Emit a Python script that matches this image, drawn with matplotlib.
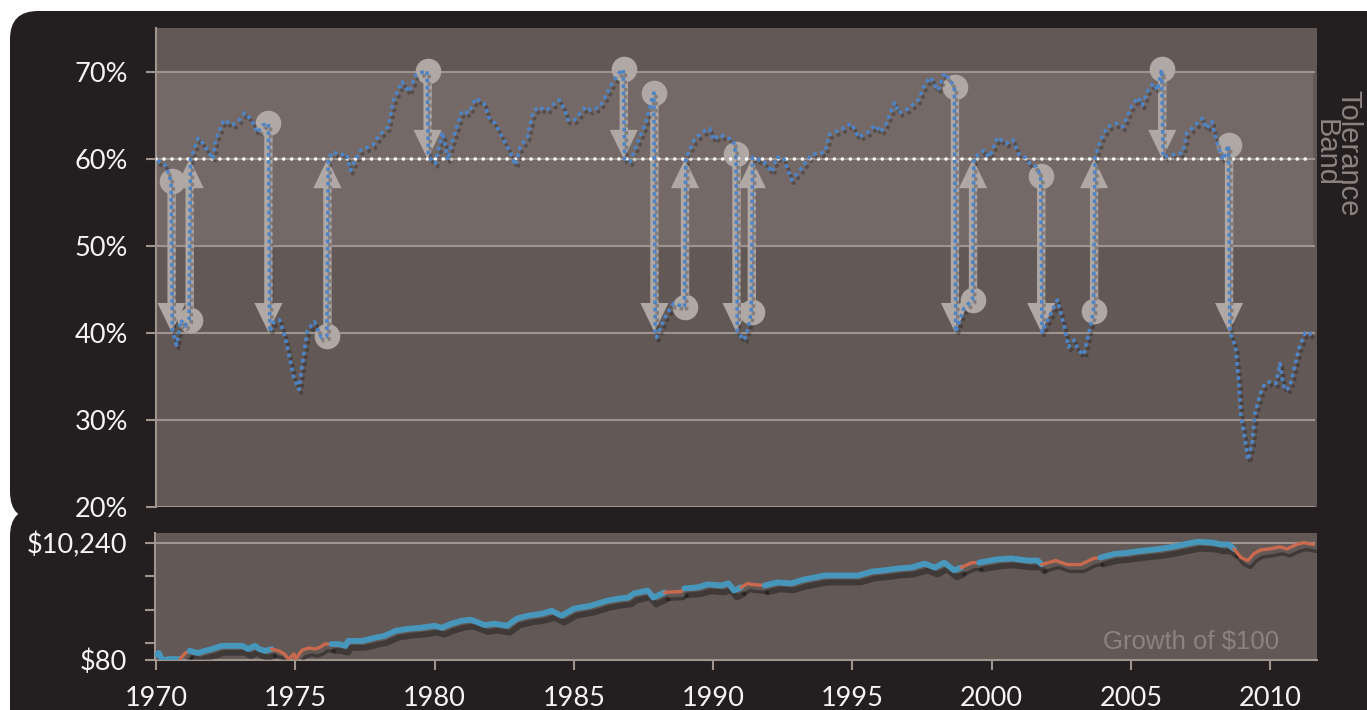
import matplotlib
matplotlib.use('Agg')
import matplotlib.pyplot as plt
import matplotlib.patheffects as pe
from matplotlib.patches import FancyBboxPatch
from matplotlib.transforms import IdentityTransform
from matplotlib.ticker import NullLocator

# equity allocation (% of portfolio)
alloc_years = [1970.0, 1970.3, 1970.5, 1970.55, 1970.7, 1970.85, 1971.0, 1971.15, 1971.2, 1971.47,
               1971.65, 1972.0, 1972.1, 1972.4, 1972.7, 1972.9, 1973.15, 1973.4, 1973.6, 1973.8,
               1974.0, 1974.05, 1974.2, 1974.4, 1974.6, 1974.9, 1975.1, 1975.2, 1975.4, 1975.65,
               1975.9, 1976.1, 1976.15, 1976.3, 1976.6, 1976.8, 1976.95, 1977.3, 1977.75, 1978.0,
               1978.3, 1978.5, 1978.8, 1979.05, 1979.3, 1979.55, 1979.7, 1979.75, 1980.0, 1980.25,
               1980.45, 1980.55, 1980.7, 1980.95, 1981.2, 1981.45, 1981.75, 1981.93, 1982.15, 1982.4,
               1982.7, 1982.87, 1983.05, 1983.3, 1983.5, 1983.7, 1984.0, 1984.2, 1984.45, 1984.65,
               1984.75, 1985.0, 1985.4, 1985.6, 1985.9, 1986.1, 1986.35, 1986.6, 1986.75, 1986.8,
               1987.0, 1987.3, 1987.55, 1987.8, 1987.85, 1987.9, 1987.95, 1988.25, 1988.55, 1988.95,
               1989.0, 1989.3, 1989.55, 1989.85, 1990.0, 1990.2, 1990.45, 1990.7, 1990.8, 1990.85,
               1991.1, 1991.25, 1991.35, 1991.4, 1991.8, 1992.1, 1992.25, 1992.5, 1992.8, 1993.1,
               1993.5, 1994.0, 1994.15, 1994.7, 1994.95, 1995.2, 1995.55, 1995.8, 1996.0, 1996.2,
               1996.5, 1996.65, 1997.0, 1997.35, 1997.6, 1997.8, 1998.05, 1998.3, 1998.65, 1998.7,
               1999.0, 1999.3, 1999.35, 1999.7, 1999.9, 2000.2, 2000.5, 2000.75, 2000.97, 2001.2,
               2001.4, 2001.6, 2001.75, 2001.8, 2002.05, 2002.35, 2002.6, 2002.75, 2002.95, 2003.1,
               2003.3, 2003.5, 2003.65, 2003.7, 2003.9, 2004.15, 2004.45, 2004.7, 2005.0, 2005.25,
               2005.4, 2005.6, 2005.8, 2005.95, 2006.1, 2006.15, 2006.5, 2006.85, 2007.0, 2007.25,
               2007.55, 2007.7, 2007.9, 2008.05, 2008.3, 2008.5, 2008.55, 2008.75, 2008.87, 2008.93,
               2009.05, 2009.2, 2009.35, 2009.45, 2009.65, 2009.8, 2010.0, 2010.2, 2010.35, 2010.45,
               2010.55, 2010.7, 2010.9, 2011.05, 2011.25, 2011.4, 2011.55]
alloc_pct = [59.8, 59.3, 57.5, 40.3, 38.6, 41.5, 40.8, 41.5, 60.0, 62.4,
             61.8, 60.0, 62.2, 64.5, 63.9, 64.3, 65.3, 64.5, 63.0, 63.9,
             64.1, 40.1, 41.3, 41.5, 39.5, 35.0, 33.5, 36.1, 40.3, 41.3,
             39.5, 39.7, 60.0, 60.8, 60.5, 60.6, 58.7, 61.0, 61.6, 62.8,
             63.7, 66.8, 68.9, 67.7, 69.7, 70.0, 70.1, 60.3, 59.5, 63.1,
             59.9, 61.4, 63.0, 65.5, 65.3, 67.0, 66.4, 64.7, 64.1, 62.5,
             60.7, 59.3, 61.4, 62.5, 65.3, 66.0, 65.6, 66.2, 66.8, 65.6,
             64.5, 64.5, 66.0, 65.6, 66.0, 67.1, 68.7, 69.9, 70.3, 60.0,
             59.7, 62.2, 64.1, 67.1, 67.6, 40.1, 39.5, 41.8, 43.4, 43.0,
             60.1, 62.2, 63.0, 63.5, 62.2, 62.8, 62.5, 62.2, 60.6, 40.1,
             39.2, 40.7, 42.4, 60.2, 59.7, 58.5, 60.2, 60.2, 57.6, 58.7,
             60.5, 60.8, 62.8, 63.6, 64.1, 62.5, 63.1, 63.9, 63.1, 64.1,
             66.5, 65.3, 65.8, 66.8, 68.7, 69.4, 67.9, 69.9, 68.3, 40.1,
             42.9, 43.8, 60.1, 61.0, 60.2, 62.5, 61.8, 62.2, 60.5, 60.2,
             59.3, 59.1, 58.0, 40.1, 41.8, 43.8, 40.7, 38.4, 39.2, 38.0,
             37.5, 40.3, 42.5, 60.1, 62.2, 63.7, 64.1, 63.7, 66.0, 67.1,
             66.2, 67.9, 68.7, 67.9, 70.3, 60.2, 60.5, 60.7, 63.0, 63.7,
             64.7, 63.5, 64.3, 62.2, 59.9, 61.6, 40.1, 38.4, 34.2, 30.8,
             28.5, 25.4, 27.4, 30.8, 33.1, 34.2, 34.4, 34.2, 36.5, 34.2,
             33.4, 33.8, 36.5, 38.4, 40.0, 40.1, 39.4]

# rebalancing trades (arrows)
event_years = [1970.52, 1971.17, 1974.0, 1976.12, 1979.72, 1986.77, 1987.87, 1988.97,
               1990.82, 1991.37, 1998.67, 1999.32, 2001.77, 2003.67, 2006.12, 2008.52]
event_from = [57.5, 41.5, 64.1, 39.7, 70.1, 70.3, 67.6, 43.0,
              60.6, 42.4, 68.3, 43.8, 58.0, 42.5, 70.3, 61.6]
event_to = [40.1, 60, 40.1, 60, 60, 60, 40.1, 60,
            40.1, 60, 40.1, 60, 40.1, 60, 60, 40.1]

# growth of $100 (lower panel)
growth_years = [1970.0, 1970.1, 1970.2, 1970.3, 1970.45, 1970.86, 1971.05, 1971.2, 1971.5, 1971.75,
                1972.0, 1972.35, 1972.6, 1973.1, 1973.3, 1973.55, 1973.7, 1973.9, 1974.15, 1974.4,
                1974.6, 1974.75, 1974.95, 1975.0, 1975.25, 1975.5, 1975.7, 1975.9, 1976.05, 1976.3,
                1976.55, 1976.8, 1976.9, 1977.4, 1977.85, 1978.2, 1978.6, 1979.05, 1979.5, 1980.0,
                1980.25, 1980.6, 1980.97, 1981.3, 1981.8, 1982.15, 1982.6, 1982.95, 1983.35, 1983.85,
                1984.2, 1984.55, 1985.0, 1985.6, 1986.2, 1986.6, 1986.95, 1987.15, 1987.65, 1987.85,
                1988.25, 1988.85, 1988.97, 1989.45, 1989.8, 1990.3, 1990.55, 1990.75, 1991.0, 1991.25,
                1991.35, 1991.85, 1992.3, 1992.8, 1993.25, 1994.0, 1994.7, 1995.2, 1995.7, 1996.15,
                1996.65, 1997.1, 1997.6, 1997.95, 1998.3, 1998.65, 1998.9, 1999.3, 1999.55, 2000.2,
                2000.7, 2001.3, 2001.65, 2001.8, 2002.3, 2002.7, 2003.2, 2003.65, 2003.9, 2004.4,
                2004.85, 2005.35, 2006.05, 2006.5, 2007.05, 2007.4, 2007.95, 2008.2, 2008.5, 2008.7,
                2008.95, 2009.2, 2009.4, 2009.65, 2010.0, 2010.35, 2010.6, 2010.95, 2011.2, 2011.55]
growth_value = [100, 107, 83, 80, 83, 83, 107, 117, 107, 117,
                126, 144, 144, 144, 126, 144, 126, 117, 126, 117,
                103, 83, 103, 83, 121, 132, 126, 137, 155, 155,
                155, 144, 177, 177, 201, 218, 269, 292, 305, 331,
                305, 360, 407, 425, 340, 360, 331, 444, 502, 545,
                616, 502, 672, 760, 937, 1021, 1066, 1263, 1430, 1066,
                1320, 1370, 1560, 1630, 1840, 1760, 1920, 1430, 1630, 1920,
                1840, 1760, 2000, 1920, 2250, 2660, 2660, 2660, 3140, 3300,
                3570, 3700, 4360, 3700, 4540, 3300, 3700, 4540, 4540, 5200,
                5400, 4950, 4950, 4200, 4950, 4200, 4200, 5400, 5600, 6500,
                6800, 7380, 8040, 8750, 10000, 10800, 10400, 9650, 9650, 8000,
                5600, 4950, 6500, 7680, 8040, 8750, 8000, 9650, 10400, 9650]

pct_ticks = [20, 30, 40, 50, 60, 70]
usd_ticks = [80, 160, 640, 2560, 10240]
usd_labels = ['$80', '', '', '', '$10,240']
year_ticks = [1970, 1975, 1980, 1985, 1990, 1995, 2000, 2005, 2010]

DARK = '#231f20'
PANEL = '#625855'
BAND = '#746966'
GRID = '#a0948f'
ARROW = '#b0a8a5'
BLUE_DOT = '#4f84c4'
BLUE = '#4797bd'
ORANGE = '#c96a4f'
NOTE = '#8c827f'
TICKFONT = 'Lato'

fig = plt.figure(figsize=(13.67, 7.10), dpi=100)
fig.patch.set_facecolor('white')
ident = IdentityTransform()
fig.add_artist(FancyBboxPatch((10, 190), 1420, 509, boxstyle='round,pad=0,rounding_size=28',
                              transform=ident, fc=DARK, ec='none', zorder=0))
fig.add_artist(FancyBboxPatch((10, -60), 1420, 262, boxstyle='round,pad=0,rounding_size=28',
                              transform=ident, fc=DARK, ec='none', zorder=0))

W, H = 1367, 710
xlim = (1969.96, 2011.68)

# ---- upper panel: allocation ----
ax1 = fig.add_axes([156 / W, 1 - 507 / H, 1161 / W, (507 - 28) / H])
ax1.set_facecolor(PANEL)
ax1.set_xlim(*xlim)
ax1.set_ylim(20, 75.06)
ax1.axhspan(50, 70, xmax=0.996, color=BAND, zorder=0)
for s in ['top', 'right', 'bottom']:
    ax1.spines[s].set_visible(False)
ax1.spines['left'].set_color(GRID)
ax1.spines['left'].set_linewidth(1.5)
ax1.set_yticks(pct_ticks)
ax1.set_yticklabels([f'{v}%' for v in pct_ticks])
ax1.set_xticks([])
ax1.tick_params(axis='y', length=7, width=1.5, color=GRID, pad=13, labelsize=19.5,
                labelcolor='#f4f4f4')
for lab in ax1.get_yticklabels():
    lab.set_family(TICKFONT)
for v in pct_ticks:
    ax1.axhline(v, xmax=0.997, color=GRID, lw=1.5, zorder=1)

ax1.axhline(60, xmax=0.992, color='white', lw=2.6, ls=(0, (0.01, 2.2)),
            dash_capstyle='round', zorder=4)

for yr, frm, to in zip(event_years, event_from, event_to):
    ax1.annotate('', xy=(yr, to), xytext=(yr, frm),
                 arrowprops=dict(arrowstyle='simple,head_length=1.4,head_width=1.35,tail_width=0.4',
                                 mutation_scale=15, fc=ARROW, ec='none',
                                 shrinkA=0, shrinkB=0), zorder=3)
ax1.scatter(event_years, event_from, s=340, color=ARROW, zorder=3, linewidths=0)

ax1.plot(alloc_years, alloc_pct, color=BLUE_DOT, lw=2.6, ls=(0, (1, 1.0)),
         dash_capstyle='butt', zorder=5,
         path_effects=[pe.SimpleLineShadow(offset=(1.5, -2.5), shadow_color='black', alpha=0.25),
                       pe.Normal()])

fig.text(1337 / W, 1 - 153 / H, 'Tolerance\nBand', rotation=270, ha='center', va='center',
         multialignment='center', color=NOTE, fontsize=21, family='Liberation Sans',
         linespacing=0.8)

# ---- lower panel: growth of $100 ----
ax2 = fig.add_axes([155 / W, 1 - 660 / H, 1162 / W, (660 - 533) / H])
ax2.set_facecolor(PANEL)
ax2.set_xlim(*xlim)
ax2.set_yscale('log', base=2)
ax2.set_ylim(80, 15515)
for s in ['top', 'right']:
    ax2.spines[s].set_visible(False)
for s in ['left', 'bottom']:
    ax2.spines[s].set_color(GRID)
    ax2.spines[s].set_linewidth(1.5)
ax2.yaxis.set_minor_locator(NullLocator())
ax2.set_yticks(usd_ticks)
ax2.set_yticklabels(usd_labels)
ax2.set_xticks(year_ticks)
ax2.set_xticklabels([str(y) for y in year_ticks])
ax2.tick_params(axis='both', length=7, width=1.5, color=GRID, labelsize=19.5,
                labelcolor='#f4f4f4')
ax2.tick_params(axis='y', pad=13)
ax2.tick_params(axis='x', pad=12)
for lab in ax2.get_yticklabels() + ax2.get_xticklabels():
    lab.set_family(TICKFONT)
ax2.axhline(10240, xmax=0.997, color=GRID, lw=1.5, zorder=1)

# regime after each rebalance: 60% target -> blue, 40% target -> orange
regime = []
for gy in growth_years:
    tgt = 60
    for yr, to in zip(event_years, event_to):
        if yr <= gy:
            tgt = to
    regime.append(tgt)

start = 0
for i in range(1, len(growth_years) + 1):
    if i == len(growth_years) or regime[i] != regime[start]:
        end = min(i + 1, len(growth_years))
        hi = regime[start] == 60
        ax2.plot(growth_years[start:end], growth_value[start:end],
                 color=BLUE if hi else ORANGE, lw=4.2 if hi else 2.4,
                 solid_capstyle='round', zorder=3,
                 path_effects=[pe.SimpleLineShadow(offset=(2, -5), shadow_color='black',
                                                   alpha=0.35),
                               pe.Normal()])
        start = i

ax2.text(0.892, 0.14, 'Growth of $100', transform=ax2.transAxes, ha='center', va='center',
         color=NOTE, fontsize=18.5, family='Liberation Sans')

fig.savefig('out.png', dpi=100, facecolor='white')
